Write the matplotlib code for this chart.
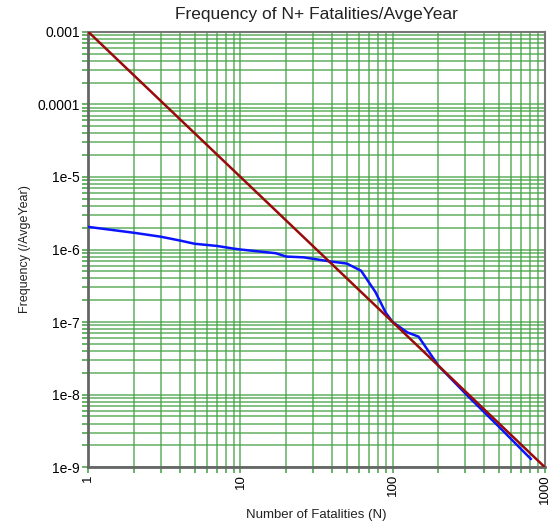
import numpy as np
from matplotlib import pyplot as plt
from matplotlib.ticker import FixedLocator, FixedFormatter, LogLocator, NullFormatter

plt.rcParams['font.family'] = ['Liberation Sans', 'DejaVu Sans']

# F-N curve
n_fatal = [1, 2, 3, 4, 5, 7, 9, 10, 17, 20, 26, 38, 50, 62, 77, 90, 100, 125, 148, 200, 316, 500, 809]
freq = [2.05e-6, 1.7e-6, 1.5e-6, 1.33e-6, 1.2e-6, 1.12e-6, 1.03e-6, 1.0e-6, 8.9e-7, 8.0e-7,
        7.8e-7, 6.9e-7, 6.4e-7, 5.1e-7, 2.6e-7, 1.35e-7, 1.0e-7, 7.2e-8, 6.3e-8, 2.5e-8,
        9.3e-9, 3.6e-9, 1.3e-9]

# criterion line
crit_n = [1, 1000]
crit_f = [1e-3, 1e-9]

xticks = [1, 10, 100, 1000]
xlabels = ['1', '10', '100', '1000']
yticks = [1e-9, 1e-8, 1e-7, 1e-6, 1e-5, 1e-4, 1e-3]
ylabels = ['1e-9', '1e-8', '1e-7', '1e-6', '1e-5', '0.0001', '0.001']

fig = plt.figure(figsize=(5.52, 5.22), dpi=100)
ax = fig.add_axes([0.160, 0.105, 0.827, 0.834])

green = '#3f9f3f'
ax.set_xscale('log')
ax.set_yscale('log')
ax.set_xlim(1, 1000)
ax.set_ylim(1e-9, 1e-3)

ax.xaxis.set_major_locator(FixedLocator(xticks))
ax.xaxis.set_major_formatter(FixedFormatter(xlabels))
ax.yaxis.set_major_locator(FixedLocator(yticks))
ax.yaxis.set_major_formatter(FixedFormatter(ylabels))
ax.xaxis.set_minor_locator(LogLocator(base=10, subs=np.arange(2, 10), numticks=20))
ax.yaxis.set_minor_locator(LogLocator(base=10, subs=np.arange(2, 10), numticks=20))
ax.xaxis.set_minor_formatter(NullFormatter())
ax.yaxis.set_minor_formatter(NullFormatter())

ax.grid(True, which='both', color=green, linewidth=1.2, alpha=0.75)
ax.tick_params(which='both', color=green, length=4, width=1.1)
ax.tick_params(axis='x', labelrotation=90, labelsize=9.5, pad=1)
ax.tick_params(axis='y', labelsize=10, pad=2)
for lab in ax.get_xticklabels():
    lab.set_verticalalignment('top')

ax.plot(n_fatal, freq, color='#0a14ff', linewidth=1.8, zorder=3)
ax.plot(crit_n, crit_f, color='#9a0a0a', linewidth=1.8, zorder=4)

for side in ['left', 'bottom']:
    ax.spines[side].set_color('#666666')
    ax.spines[side].set_linewidth(2)
for side in ['top', 'right']:
    ax.spines[side].set_color('#777777')
    ax.spines[side].set_linewidth(1.5)

ax.set_title('Frequency of N+ Fatalities/AvgeYear', fontsize=12.5, color='#222222', pad=9)
ax.set_xlabel('Number of Fatalities (N)', fontsize=9.5, color='#222222', labelpad=4)
ax.set_ylabel('Frequency (/AvgeYear)', fontsize=9, color='#222222')
ax.yaxis.set_label_coords(-0.125, 0.5)

fig.savefig('out.png', dpi=100)
